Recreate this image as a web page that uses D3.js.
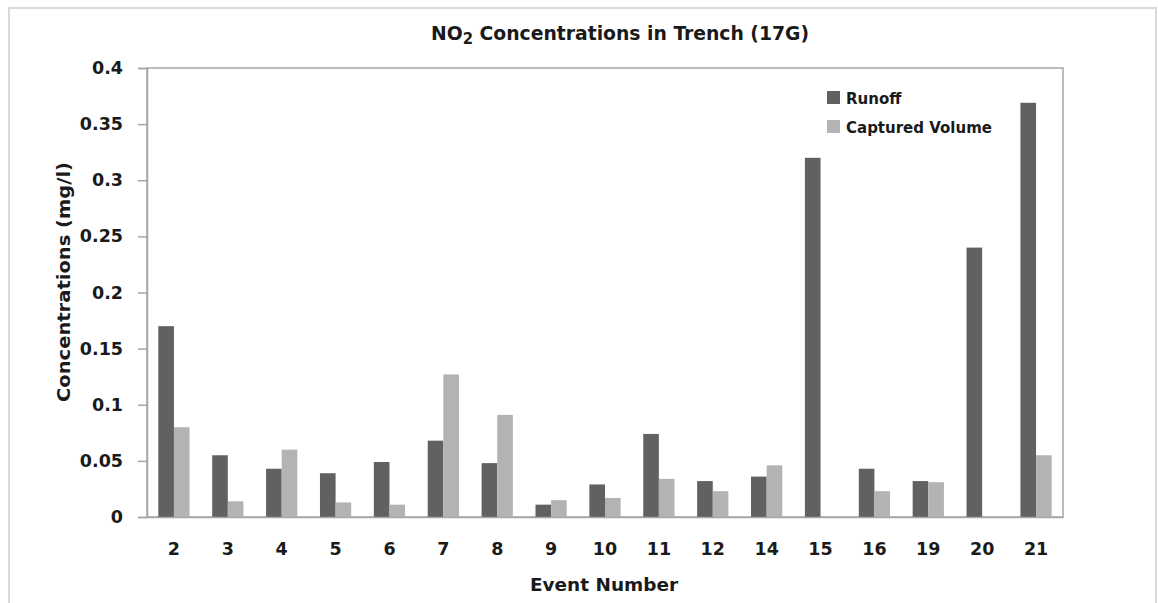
<!DOCTYPE html>
<html>
<head>
<meta charset="utf-8">
<script src="https://cdn.jsdelivr.net/npm/d3@7"></script>
<style>
  html, body { margin: 0; padding: 0; background: #fff; }
  svg { display: block; }
</style>
</head>
<body>
<svg id="chart" width="1158" height="603"></svg>
<script>
const events = ["2","3","4","5","6","7","8","9","10","11","12","14","15","16","19","20","21"];
const runoff = [0.170,0.055,0.043,0.039,0.049,0.068,0.048,0.011,0.029,0.074,0.032,0.036,0.320,0.043,0.032,0.240,0.369];
const captured = [0.080,0.014,0.060,0.013,0.011,0.127,0.091,0.015,0.017,0.034,0.023,0.046,0,0.023,0.031,0,0.055];
const seriesNames = ["Runoff","Captured Volume"];
const seriesColors = ["#616161","#b3b3b3"];
const yTicks = [0,0.05,0.1,0.15,0.2,0.25,0.3,0.35,0.4];
const yTickLabels = ["0","0.05","0.1","0.15","0.2","0.25","0.3","0.35","0.4"];

const svg = d3.select("#chart");
const plot = {left: 147, right: 1063, top: 68, bottom: 517};

// outer chart border
svg.append("rect").attr("x",9).attr("y",8).attr("width",1147).attr("height",640)
  .attr("fill","none").attr("stroke","#d9d9d9").attr("stroke-width",2);

const x0 = d3.scaleBand().domain(events).range([plot.left, plot.right]).paddingInner(0.42).paddingOuter(0.21);
const x1 = d3.scaleBand().domain(seriesNames).range([0, x0.bandwidth()]);
const y = d3.scaleLinear().domain([0,0.4]).range([plot.bottom, plot.top]);

// plot area border
svg.append("rect").attr("x",plot.left).attr("y",plot.top)
  .attr("width",plot.right-plot.left).attr("height",plot.bottom-plot.top)
  .attr("fill","none").attr("stroke","#a6a6a6").attr("stroke-width",1.5);

// bars
const data = [runoff, captured];
seriesNames.forEach((s,si) => {
  svg.append("g").selectAll("rect").data(events).join("rect")
    .attr("x", (d,i) => x0(d) + x1(s))
    .attr("y", (d,i) => y(data[si][i]))
    .attr("width", x1.bandwidth())
    .attr("height", (d,i) => y(0) - y(data[si][i]))
    .attr("fill", seriesColors[si]);
});

// y axis
const yAxis = d3.axisLeft(y).tickValues(yTicks).tickFormat((d,i)=>yTickLabels[i]).tickSize(9).tickPadding(15);
const gy = svg.append("g").attr("transform",`translate(${plot.left},0)`).call(yAxis);
gy.select(".domain").attr("stroke","#a6a6a6").attr("stroke-width",1.5);
gy.selectAll(".tick line").attr("stroke","#a6a6a6").attr("stroke-width",1.5);
gy.selectAll(".tick text").attr("font-family","DejaVu Sans, sans-serif").attr("font-weight","bold")
  .attr("font-size","17.5px").attr("fill","#1a1a1a");

// x axis
const xAxis = d3.axisBottom(x0).tickSize(0).tickPadding(26);
const gx = svg.append("g").attr("transform",`translate(0,${plot.bottom})`).call(xAxis);
gx.select(".domain").attr("stroke","#a6a6a6").attr("stroke-width",1.5);
gx.selectAll(".tick text").attr("font-family","DejaVu Sans, sans-serif").attr("font-weight","bold")
  .attr("font-size","17.5px").attr("fill","#1a1a1a");

// title
const title = svg.append("text").attr("x",431).attr("y",40)
  .attr("font-family","DejaVu Sans Condensed, DejaVu Sans, sans-serif").attr("font-weight","bold")
  .attr("font-size","19px").attr("fill","#1a1a1a")
  .attr("textLength",378).attr("lengthAdjust","spacingAndGlyphs");
title.append("tspan").text("NO");
title.append("tspan").attr("dy",4).attr("font-size","15px").text("2");
title.append("tspan").attr("dy",-4).text(" Concentrations in Trench (17G)");

// y axis title
svg.append("text").attr("transform","translate(70,282) rotate(-90)")
  .attr("text-anchor","middle")
  .attr("font-family","DejaVu Sans Condensed, DejaVu Sans, sans-serif").attr("font-weight","bold")
  .attr("font-size","18px").attr("fill","#1a1a1a")
  .attr("textLength",240).attr("lengthAdjust","spacingAndGlyphs")
  .text("Concentrations (mg/l)");

// x axis title
svg.append("text").attr("x",604).attr("y",591).attr("text-anchor","middle")
  .attr("font-family","DejaVu Sans Condensed, DejaVu Sans, sans-serif").attr("font-weight","bold")
  .attr("font-size","18px").attr("fill","#1a1a1a")
  .attr("textLength",148).attr("lengthAdjust","spacingAndGlyphs")
  .text("Event Number");

// legend
const legend = svg.append("g").attr("transform","translate(827,91)");
seriesNames.forEach((s,i) => {
  const g = legend.append("g").attr("transform",`translate(0,${i*29})`);
  g.append("rect").attr("width",13).attr("height",13).attr("fill",seriesColors[i]);
  g.append("text").attr("x",19).attr("y",12.5)
    .attr("font-family","DejaVu Sans, sans-serif").attr("font-weight","bold")
    .attr("font-size","15px").attr("fill","#1a1a1a").text(s);
});
</script>
</body>
</html>
